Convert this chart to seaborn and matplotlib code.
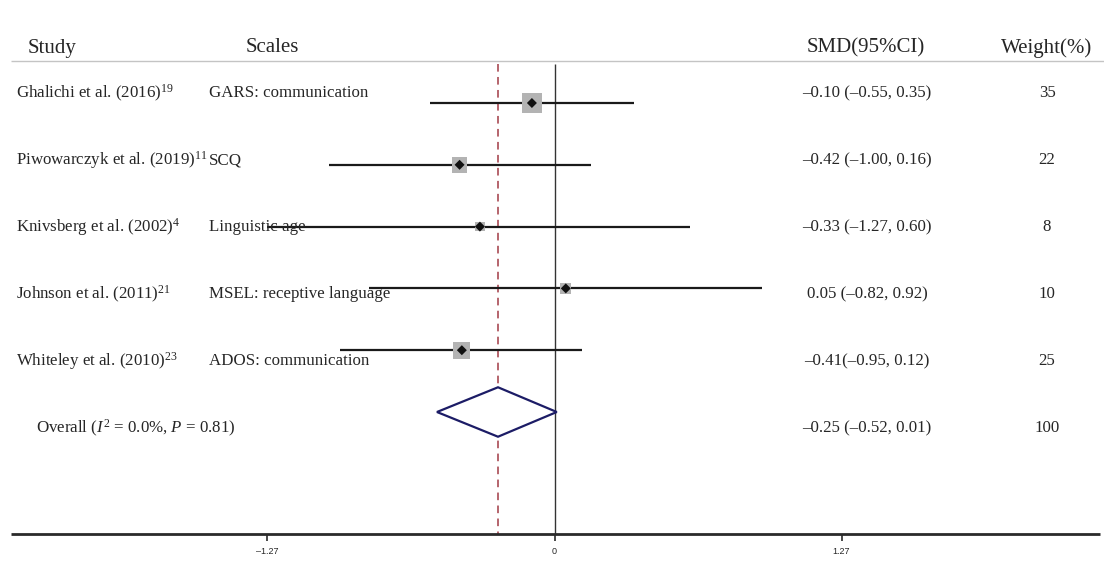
import numpy as np
import pandas as pd
import matplotlib
matplotlib.use("Agg")
import matplotlib.pyplot as plt
import seaborn as sns

# ---- Data ----
studies = ["Ghalichi et al. (2016)$^{19}$",
           "Piwowarczyk et al. (2019)$^{11}$",
           "Knivsberg et al. (2002)$^{4}$",
           "Johnson et al. (2011)$^{21}$",
           "Whiteley et al. (2010)$^{23}$"]
scales = ["GARS: communication", "SCQ", "Linguistic age",
          "MSEL: receptive language", "ADOS: communication"]
smd = [-0.10, -0.42, -0.33, 0.05, -0.41]
ci_low = [-0.55, -1.00, -1.27, -0.82, -0.95]
ci_high = [0.35, 0.16, 0.60, 0.92, 0.12]
weights = [35, 22, 8, 10, 25]
smd_labels = ["–0.10 (–0.55, 0.35)", "–0.42 (–1.00, 0.16)", "–0.33 (–1.27, 0.60)",
              "0.05 (–0.82, 0.92)", "–0.41(–0.95, 0.12)"]

overall_label = r"Overall ($I^2$ = 0.0%, $P$ = 0.81)"
overall_smd = -0.25
overall_low = -0.52
overall_high = 0.01
overall_text = "–0.25 (–0.52, 0.01)"
overall_weight = 100

tick_vals = [-1.27, 0, 1.27]
tick_labels = ["–1.27", "0", "1.27"]

# ---- Layout helpers (pixel -> data) ----
W, H = 1104, 563
X0_PX, PX_PER_UNIT = 554.5, 226.0
ROW0_PX, ROW_PX = 103.0, 61.8

def px(p):
    return (p - X0_PX) / PX_PER_UNIT

def py(p):
    return (p - ROW0_PX) / ROW_PX

sns.set_style("white")
plt.rcParams["font.family"] = ["Liberation Serif", "DejaVu Serif"]
plt.rcParams["mathtext.fontset"] = "custom"
plt.rcParams["mathtext.rm"] = "Liberation Serif"
plt.rcParams["mathtext.it"] = "Liberation Serif:italic"
plt.rcParams["mathtext.bf"] = "Liberation Serif:bold"

fig = plt.figure(figsize=(W / 100, H / 100), dpi=100)
ax = fig.add_axes([0, 0, 1, 1])
ax.set_xlim(px(0), px(W))
ax.set_ylim(py(H), py(0))
ax.axis("off")

df = pd.DataFrame({"row": np.arange(len(studies)), "smd": smd,
                   "lo": ci_low, "hi": ci_high, "weight": weights})

# reference lines
top, bottom = py(64), py(534)
ax.vlines(0, top, bottom, color="#333333", lw=1.0, zorder=1)
ax.vlines(overall_smd, top, bottom, color="#a23a45", lw=1.1,
          linestyles=(0, (5, 3.5)), zorder=1)

# confidence intervals
ax.hlines(df["row"], df["lo"], df["hi"], color="#1a1a1a", lw=1.6, zorder=2)

# weight squares (area proportional to weight)
sns.scatterplot(data=df, x="smd", y="row", size="weight",
                sizes=(5.9 * min(weights), 5.9 * max(weights)),
                marker="s", color="#b3b3b3", edgecolor="none",
                legend=False, ax=ax, zorder=3)
sns.scatterplot(data=df, x="smd", y="row", marker="D", s=26,
                color="#111111", edgecolor="none", legend=False, ax=ax, zorder=4)

# overall diamond
orow = len(studies)
dh = 0.4
ax.fill([overall_low, overall_smd, overall_high, overall_smd],
        [orow, orow - dh, orow, orow + dh],
        facecolor="white", edgecolor="#1c1c66", lw=1.6, zorder=3)

# header
hy = py(48)
hfs = 15
ax.text(px(28), hy, "Study", fontsize=hfs, ha="left", va="center")
ax.text(px(246), hy, "Scales", fontsize=hfs, ha="left", va="center")
ax.text(px(866), hy, "SMD(95%CI)", fontsize=hfs, ha="center", va="center")
ax.text(px(1047), hy, "Weight(%)", fontsize=hfs, ha="center", va="center")
ax.hlines(py(61), px(11), px(W), color="#c4c4c4", lw=1.0)

# rows of text
fs = 12.2
for i in range(len(studies)):
    ty = py(93 + 67 * i)
    ax.text(px(16), ty, studies[i], fontsize=fs, ha="left", va="center")
    ax.text(px(209), ty, scales[i], fontsize=fs, ha="left", va="center")
    ax.text(px(867), ty, smd_labels[i], fontsize=fs, ha="center", va="center")
    ax.text(px(1047), ty, str(weights[i]), fontsize=fs, ha="center", va="center")

ty = py(93 + 67 * orow)
ax.text(px(36), ty, overall_label, fontsize=fs, ha="left", va="center")
ax.text(px(867), ty, overall_text, fontsize=fs, ha="center", va="center")
ax.text(px(1047), ty, str(overall_weight), fontsize=fs, ha="center", va="center")

# bottom axis
ay = py(534)
ax.hlines(ay, px(11), px(1100), color="#2a2a2a", lw=2.0)
for v, lab in zip(tick_vals, tick_labels):
    ax.vlines(v, ay, py(541), color="#2a2a2a", lw=1.2)
    ax.text(v, py(552), lab, fontsize=6.5, ha="center", va="center",
            family=["Liberation Sans", "DejaVu Sans"])

fig.savefig("out.png", dpi=100)
